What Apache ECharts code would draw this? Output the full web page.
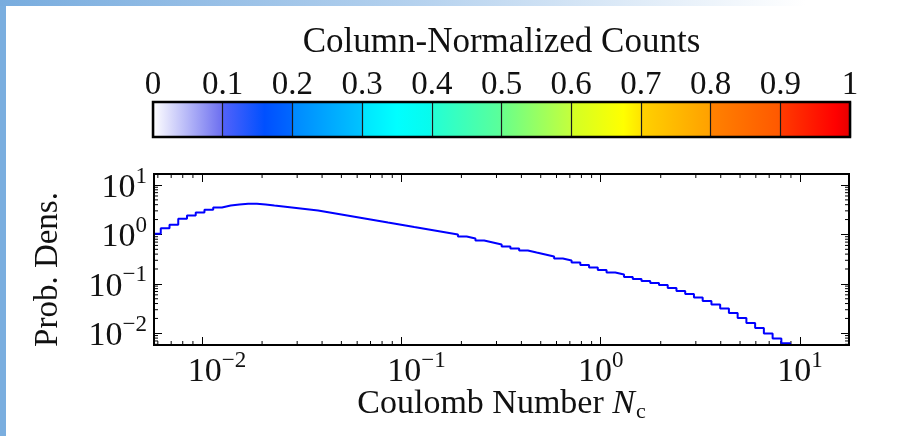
<!DOCTYPE html>
<html><head><meta charset="utf-8">
<script src="https://cdn.jsdelivr.net/npm/echarts@6/dist/echarts.min.js"></script>
<style>html,body{margin:0;padding:0;background:#fff}#c{width:915px;height:436px}</style>
</head><body><div id="c"></div>
<script>
// ---------------- data ----------------
const colorbarTicks = [0, 0.1, 0.2, 0.3, 0.4, 0.5, 0.6, 0.7, 0.8, 0.9, 1];
const xDecadeTicks = [0.01, 0.1, 1, 10];
const yDecadeTicks = [0.01, 0.1, 1, 10];
const xRange = [0.00574, 17.6];
const yRange = [0.0058, 16.7];
// log-uniform histogram bins (log10 of first / last edge, number of bins)
const histLogMin = -2.251, histLogMax = 0.950, histBinCount = 73;
// probability density per bin
const density = [
  1.033, 1.341, 1.572, 2.078, 2.424, 2.788, 3.162, 3.521, 3.864, 4.049,
  4.183, 4.183, 4.049, 3.864, 3.688, 3.521, 3.360, 3.207, 3.061, 2.855,
  2.661, 2.481, 2.313, 2.158, 2.012, 1.876, 1.749, 1.632, 1.521, 1.418,
  1.323, 1.233, 1.150, 1.072, 1.000, 0.911, 0.830, 0.756, 0.689, 0.628,
  0.572, 0.521, 0.474, 0.432, 0.394, 0.359, 0.327, 0.298, 0.271, 0.241,
  0.215, 0.191, 0.170, 0.155, 0.138, 0.1257, 0.1145, 0.1043, 0.0950, 0.0826,
  0.0718, 0.0624, 0.0530, 0.0450, 0.0383, 0.0318, 0.0258, 0.0204, 0.0162, 0.0128,
  0.0099, 0.00785, 0.00630
];

// ---------------- styles ----------------
const FONT = 'Liberation Serif';
const TXT = '#111';
const colormapSegments = [
  [[0, '#ffffff'], [1, '#6b6ef0']],
  [[0, '#5262fa'], [0.6, '#0050ff'], [1, '#0068ff']],
  [[0, '#0088ff'], [1, '#00c4ff']],
  [[0, '#00e4ff'], [0.5, '#00ffff'], [1, '#08fbec']],
  [[0, '#22ffd6'], [1, '#5cff98']],
  [[0, '#68ff8c'], [1, '#c4ff3c']],
  [[0, '#d2ff26'], [0.75, '#ffff00'], [1, '#ffe400']],
  [[0, '#ffd200'], [1, '#ffa000']],
  [[0, '#ff8200'], [1, '#ff5800']],
  [[0, '#ff3c00'], [0.8, '#ff0000'], [1, '#e60000']]
];

// ---------------- derived ----------------
const binEdges = [];
for (let k = 0; k <= histBinCount; k++) {
  binEdges.push(Math.pow(10, histLogMin + (histLogMax - histLogMin) * k / histBinCount));
}
const stepData = density.map((v, i) => [binEdges[i], v]);
stepData.push([binEdges[histBinCount], density[density.length - 1]]);
stepData.push([binEdges[histBinCount], 1e-4]);

function minorTicks(range) {
  const out = [];
  for (let e = -4; e <= 2; e++) {
    for (let m = 2; m <= 9; m++) {
      const v = m * Math.pow(10, e);
      if (v > range[0] && v < range[1]) out.push(v);
    }
  }
  return out;
}
const minorX = minorTicks(xRange);
const minorY = minorTicks(yRange);

function isDecade(v) {
  const l = Math.log10(v);
  return Math.abs(l - Math.round(l)) < 1e-6;
}
function powLabel(v) {
  if (!isDecade(v)) return '';
  const e = Math.round(Math.log10(v));
  const s = e < 0 ? '\u2212' + (-e) : String(e);
  return (e < 0 ? '{pad|}' : '') + '{b|10}{s|' + s + '}';
}
const richPow = {
  b: { fontFamily: FONT, fontSize: 34, lineHeight: 40, color: TXT, verticalAlign: 'bottom' },
  s: { fontFamily: FONT, fontSize: 23, lineHeight: 20, color: TXT, verticalAlign: 'top' },
  pad: { width: 0 }
};
const richPowX = JSON.parse(JSON.stringify(richPow));
richPowX.pad = { width: 30 };

const tickStyle = { color: '#000', width: 1 };

const chart = echarts.init(document.getElementById('c'), null, { renderer: 'canvas' });
chart.setOption({
  animation: false,
  backgroundColor: '#ffffff',
  textStyle: { fontFamily: FONT },
  graphic: [
    { type: 'rect', left: 0, top: 0, shape: { width: 6, height: 436 }, style: { fill: '#7aaedf' }, z: 100 },
    { type: 'rect', left: 0, top: 0, shape: { width: 915, height: 6 },
      style: { fill: new echarts.graphic.LinearGradient(0, 0, 1, 0, [
        { offset: 0, color: '#78acde' }, { offset: 0.45, color: '#b4d1ee' }, { offset: 0.88, color: '#ffffff' }]) }, z: 100 },
    { type: 'rect', left: 6, top: 419, shape: { width: 909, height: 17 }, style: { fill: '#ffffff' }, z: 100 }
  ],
  grid: [
    { left: 154, right: 66, top: 174, bottom: 91, outerBoundsMode: 'none', containLabel: false,
      show: true, borderColor: '#000', borderWidth: 2, backgroundColor: 'transparent', z: 10 },
    { left: 153, right: 65, top: 102, height: 35, outerBoundsMode: 'none', containLabel: false,
      show: true, borderColor: '#000', borderWidth: 2.5, backgroundColor: 'transparent', z: 10 }
  ],
  xAxis: [
    { type: 'log', gridIndex: 0, position: 'bottom', min: xRange[0], max: xRange[1],
      axisLine: { show: false }, splitLine: { show: false },
      axisTick: { show: true, inside: true, length: 8, lineStyle: tickStyle },
      axisLabel: { formatter: powLabel, rich: richPowX, margin: 4, hideOverlap: false },
      name: '{t|Coulomb Number }{i|N}{c|c}', nameLocation: 'middle', nameGap: 37, nameMoveOverlap: false,
      nameTextStyle: { fontFamily: FONT, fontSize: 34, lineHeight: 44, color: TXT, rich: {
        t: { fontFamily: FONT, fontSize: 34, lineHeight: 44, color: TXT },
        i: { fontFamily: FONT, fontSize: 34, lineHeight: 44, color: TXT, fontStyle: 'italic' },
        c: { fontFamily: FONT, fontSize: 22, lineHeight: 22, color: TXT, padding: [16, 0, 0, 1] }
      } } },
    { type: 'log', gridIndex: 0, position: 'top', min: xRange[0], max: xRange[1],
      axisLine: { show: false }, splitLine: { show: false }, axisLabel: { show: false },
      axisTick: { show: true, inside: true, length: 8, lineStyle: tickStyle } },
    { type: 'value', gridIndex: 1, position: 'top', min: 0, max: 1, interval: 0.1, z: 8,
      axisLine: { show: false }, axisTick: { show: false },
      splitLine: { show: true, lineStyle: { color: '#1a1a1a', width: 1.2 } },
      axisLabel: { show: true, margin: 0, fontFamily: FONT, fontSize: 33, lineHeight: 34, color: TXT,
        formatter: v => String(Math.round(v * 10) / 10) },
      name: 'Column-Normalized Counts', nameLocation: 'middle', nameGap: 40,
      nameTextStyle: { fontFamily: FONT, fontSize: 35, lineHeight: 38, color: TXT } }
  ],
  yAxis: [
    { type: 'log', gridIndex: 0, position: 'left', min: yRange[0], max: yRange[1],
      axisLine: { show: false }, splitLine: { show: false },
      axisTick: { show: true, inside: true, length: 8, lineStyle: tickStyle },
      axisLabel: { formatter: powLabel, rich: richPow, margin: 7, hideOverlap: false },
      name: 'Prob. Dens.', nameLocation: 'middle', nameGap: 88,
      nameTextStyle: { fontFamily: FONT, fontSize: 33, lineHeight: 36, color: TXT, padding: [0, 20, 0, 0] } },
    { type: 'log', gridIndex: 0, position: 'right', min: yRange[0], max: yRange[1],
      axisLine: { show: false }, splitLine: { show: false }, axisLabel: { show: false },
      axisTick: { show: true, inside: true, length: 8, lineStyle: tickStyle } },
    { type: 'value', gridIndex: 1, min: 0, max: 1, show: false }
  ],
  series: [
    { type: 'custom', name: 'colorbar', xAxisIndex: 2, yAxisIndex: 2, silent: true, z: 2,
      data: colorbarTicks.slice(0, -1).map((v, i) => [v, colorbarTicks[i + 1]]),
      renderItem: function (params, api) {
        const p0 = api.coord([api.value(0), 0]);
        const p1 = api.coord([api.value(1), 1]);
        const stops = colormapSegments[params.dataIndex].map(s => ({ offset: s[0], color: s[1] }));
        return { type: 'rect', shape: { x: p0[0], y: p1[1], width: p1[0] - p0[0], height: p0[1] - p1[1] },
          style: { fill: new echarts.graphic.LinearGradient(0, 0, 1, 0, stops) } };
      } },
    { type: 'custom', name: 'minorX', xAxisIndex: 0, yAxisIndex: 0, silent: true,
      data: minorX.map(v => [v, 1]),
      renderItem: function (params, api) {
        const cs = params.coordSys;
        const x = api.coord([api.value(0), 1])[0];
        const st = { stroke: '#000', lineWidth: 1 };
        return { type: 'group', children: [
          { type: 'line', shape: { x1: x, y1: cs.y + cs.height, x2: x, y2: cs.y + cs.height - 4 }, style: st },
          { type: 'line', shape: { x1: x, y1: cs.y, x2: x, y2: cs.y + 4 }, style: st }
        ] };
      } },
    { type: 'custom', name: 'minorY', xAxisIndex: 0, yAxisIndex: 0, silent: true,
      data: minorY.map(v => [1, v]),
      renderItem: function (params, api) {
        const cs = params.coordSys;
        const y = api.coord([1, api.value(1)])[1];
        const st = { stroke: '#000', lineWidth: 1 };
        return { type: 'group', children: [
          { type: 'line', shape: { x1: cs.x, y1: y, x2: cs.x + 4, y2: y }, style: st },
          { type: 'line', shape: { x1: cs.x + cs.width, y1: y, x2: cs.x + cs.width - 4, y2: y }, style: st }
        ] };
      } },
    { type: 'line', name: 'Prob. Dens.', xAxisIndex: 0, yAxisIndex: 0, step: 'end',
      data: stepData, showSymbol: false, symbol: 'none', clip: true, z: 5,
      lineStyle: { color: '#0000ff', width: 2 } }
  ]
});
</script>
</body></html>
